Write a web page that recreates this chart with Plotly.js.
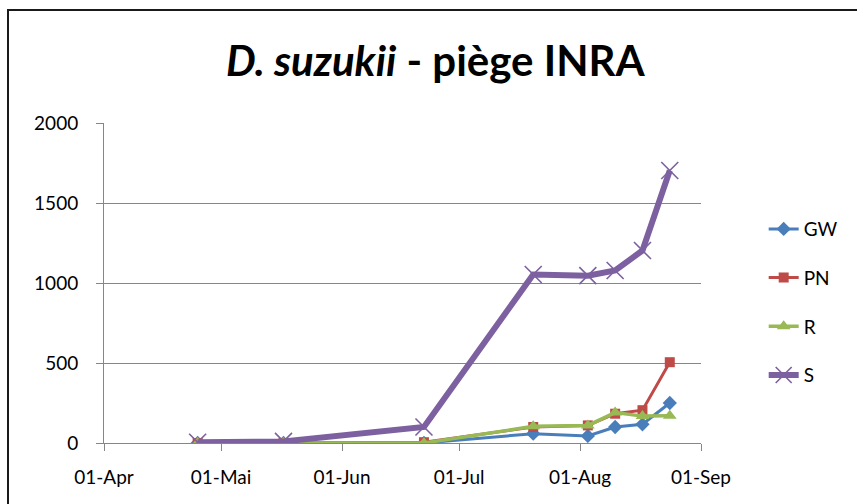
<!DOCTYPE html>
<html>
<head>
<meta charset="utf-8">
<script src="https://cdn.plot.ly/plotly-3.0.1.min.js"></script>
<style>html,body{margin:0;padding:0;background:#fff;}#chart{width:857px;height:504px;}</style>
</head>
<body>
<div id="chart"></div>
<script>
var dates = ['2013-04-25','2013-05-17','2013-06-22','2013-07-20','2013-08-03','2013-08-10','2013-08-17','2013-08-24'];
var gw = [0, 0, 0, 58, 44, 100, 117, 250];
var pn = [0, 0, 5, 100, 110, 183, 205, 505];
var r  = [0, 0, 0, 104, 110, 190, 168, 170];
var s  = [5, 10, 100, 1053, 1046, 1078, 1203, 1703];
var tickVals = ['2013-04-01','2013-05-01','2013-06-01','2013-07-01','2013-08-01','2013-09-01'];
var tickText = ['01-Apr','01-Mai','01-Jun','01-Jul','01-Aug','01-Sep'];

var FONT = 'Lato, "Open Sans", sans-serif';
var traces = [
  {x: dates, y: gw, name: 'GW', mode: 'lines+markers', legendgroup: 'a',
   line: {color: '#4a7ebb', width: 3}, marker: {symbol: 'diamond', size: 11, color: '#4a7ebb'}},
  {x: dates, y: pn, name: 'PN', mode: 'lines+markers', legendgroup: 'b',
   line: {color: '#be4b48', width: 3}, marker: {symbol: 'square', size: 10, color: '#be4b48'}},
  {x: dates, y: r, name: 'R', mode: 'lines+markers', legendgroup: 'c',
   line: {color: '#98b954', width: 3.5}, marker: {symbol: 'triangle-up', size: 12, color: '#98b954'}},
  {x: dates, y: s, name: 'S', mode: 'lines+markers', legendgroup: 'd',
   line: {color: '#7d60a0', width: 6}, marker: {symbol: 'x-thin-open', size: 17, color: '#7d60a0', line: {color: '#7d60a0', width: 1.6}}}
];

var layout = {
  width: 857, height: 504,
  margin: {l: 104, r: 156, t: 123, b: 61},
  paper_bgcolor: '#fff', plot_bgcolor: '#fff',
  font: {family: FONT, size: 19, color: '#000'},
  title: {text: '<b><i>D. suzukii</i> - piège INRA</b>', x: 0.508, xref: 'container', xanchor: 'center',
          y: 0.879, yref: 'container', yanchor: 'middle', font: {family: FONT, size: 42, color: '#000'}},
  xaxis: {type: 'date', range: ['2013-04-01','2013-09-01'], tickvals: tickVals, ticktext: tickText,
          showgrid: false, showline: true, linecolor: '#868686', linewidth: 1,
          ticks: 'outside', ticklen: 7, tickcolor: '#868686', zeroline: false, ticklabelstandoff: 10,
          tickfont: {family: FONT, size: 19, color: '#000'}},
  yaxis: {range: [0, 2000], dtick: 500, tick0: 0, showgrid: true, gridcolor: '#868686', gridwidth: 1,
          showline: true, linecolor: '#868686', linewidth: 1, zeroline: false,
          ticks: 'outside', ticklen: 7, tickcolor: '#868686', ticklabelstandoff: 14,
          tickfont: {family: FONT, size: 19, color: '#000'}},
  showlegend: true,
  legend: {x: 1.105, xanchor: 'left', y: 0.728, yanchor: 'top', traceorder: 'grouped', tracegroupgap: 21,
           font: {family: FONT, size: 19, color: '#000'}, bgcolor: 'rgba(0,0,0,0)'},
  shapes: [{type: 'rect', xref: 'paper', yref: 'paper', x0: -0.1608, x1: 1.6, y0: -0.6, y1: 1.353,
            line: {color: '#1a1a1a', width: 2}, fillcolor: 'rgba(0,0,0,0)', layer: 'above'}]
};

Plotly.newPlot('chart', traces, layout, {displayModeBar: false, staticPlot: true});
</script>
</body>
</html>
